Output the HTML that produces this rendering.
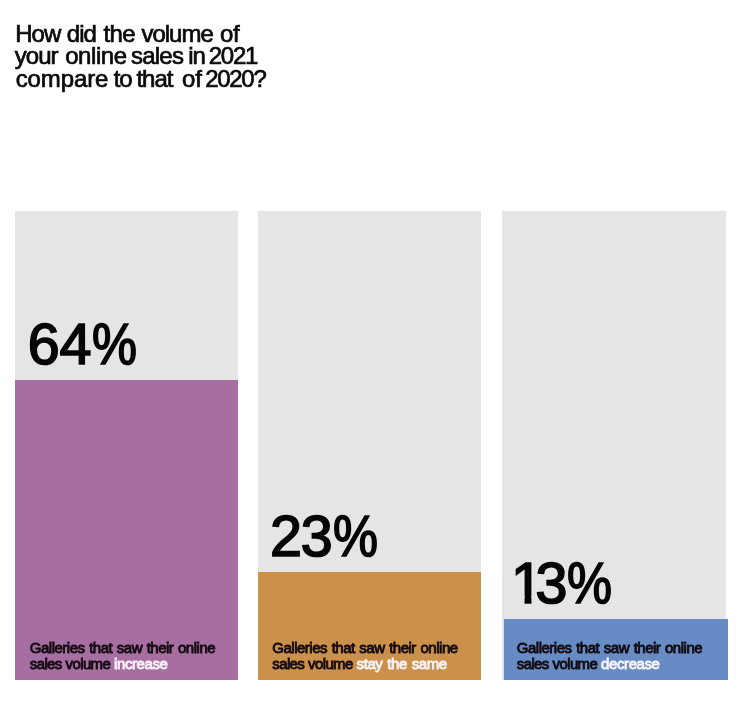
<!DOCTYPE html>
<html lang="en">
<head>
<meta charset="utf-8">
<title>Online sales volume 2021 vs 2020</title>
<style>
  html, body { margin: 0; padding: 0; }
  body {
    width: 740px; height: 710px; overflow: hidden;
    background: #ffffff;
    font-family: "Liberation Sans", sans-serif;
    color: #0a0a0a;
    position: relative;
  }
  .stage { position: absolute; left: 0; top: 0; width: 740px; height: 710px; filter: blur(0.45px); }
  .title {
    position: absolute; left: 0; top: 0; width: 300px; height: 100px;
    margin: 0; font-weight: 400;
    font-size: 24px; line-height: 22.6px;
    white-space: nowrap;
    color: #0a0a0a;
    -webkit-text-stroke: 0.7px #0a0a0a;
  }
  .title span { position: absolute; display: block; }
  .bar {
    position: absolute; top: 211px; height: 469px;
    background: #e5e5e5;
  }
  .b1 { left: 15px;    width: 223px; }
  .b2 { left: 257.5px; width: 223.5px; }
  .b3 { left: 502px; width: 223.5px; }
  .fill { position: absolute; left: 0; right: 0; bottom: 0; }
  .b1 .fill { height: 300.5px; background: #a76fa1; }
  .b2 .fill { height: 108px;   background: #cb904a; }
  .b3 .fill { height: 61px; left: 2px; right: -2px; background: #678bc4; }
  .pct {
    position: absolute; left: 0; height: 57.5px; width: 100%;
    font-size: 57.5px; line-height: 57.5px;
    white-space: nowrap;
    color: #050505;
    -webkit-text-stroke: 1.7px #050505;
  }
  .pct span { position: absolute; top: 0; display: block; }
  .pct .p { transform: scaleX(0.88); transform-origin: 0 50%; }
  .pct .one { clip-path: polygon(0 0, 100% 0, 100% 41px, 20.4px 41px, 20.4px 100%, 13.6px 100%, 13.6px 41px, 0 41px); }
  .b1 .pct { bottom: 306.5px; }
  .b2 .pct { bottom: 115px; }
  .b3 .pct { bottom: 67.5px; }
  .lbl {
    position: absolute; left: 14.8px; bottom: 8.3px;
    margin: 0;
    font-size: 15px; line-height: 16px;
    letter-spacing: -0.5px; word-spacing: 1px;
    white-space: nowrap;
    color: #140b12;
    -webkit-text-stroke: 0.85px currentColor;
  }
  .lbl i { font-style: normal; letter-spacing: -0.62px; word-spacing: 0.3px; }
  .lbl span { color: #f7f2f7; letter-spacing: -0.4px; }
</style>
</head>
<body>
<div class="stage">
  <h1 class="title">
    <span style="left:15.2px;top:22.8px;letter-spacing:-0.93px">How</span> <span style="left:66.8px;top:22.8px;letter-spacing:-1.0px">did</span> <span style="left:103.4px;top:22.8px;letter-spacing:-0.64px">the</span> <span style="left:141.4px;top:22.8px;letter-spacing:-0.99px">volume</span> <span style="left:220.1px;top:22.8px;letter-spacing:-0.46px">of</span>
    <span style="left:14.8px;top:45px;letter-spacing:-1.0px">your</span> <span style="left:65.2px;top:45px;letter-spacing:-0.42px">online</span> <span style="left:130.9px;top:45px;letter-spacing:-0.76px">sales</span> <span style="left:188.2px;top:45px;letter-spacing:-1.0px">in</span> <span style="left:208.8px;top:45px;letter-spacing:-1.3px">2021</span>
    <span style="left:15.7px;top:67.5px;letter-spacing:-0.1px">compare</span> <span style="left:113.7px;top:67.5px;letter-spacing:-1.0px">to</span> <span style="left:136.4px;top:67.5px;letter-spacing:-1.0px">that</span> <span style="left:181.9px;top:67.5px;letter-spacing:-0.1px">of</span> <span style="left:205.2px;top:67.5px;letter-spacing:-1.3px">2020?</span>
  </h1>

  <div class="bar b1">
    <div class="fill"></div>
    <div class="pct"><span style="left:12.7px">6</span><span style="left:44.5px">4</span><span class="p" style="left:77px">%</span></div>
    <p class="lbl">Galleries that saw their online<br><i>sales volume </i><span>increase</span></p>
  </div>

  <div class="bar b2">
    <div class="fill"></div>
    <div class="pct"><span style="left:12.4px">2</span><span style="left:43.3px">3</span><span class="p" style="left:75.4px">%</span></div>
    <p class="lbl">Galleries that saw their online<br><i>sales volume </i><span>stay the same</span></p>
  </div>

  <div class="bar b3">
    <div class="fill"></div>
    <div class="pct"><span class="one" style="left:9px">1</span><span style="left:33.5px">3</span><span class="p" style="left:65px">%</span></div>
    <p class="lbl">Galleries that saw their online<br><i>sales volume </i><span>decrease</span></p>
  </div>
</div>
</body>
</html>
